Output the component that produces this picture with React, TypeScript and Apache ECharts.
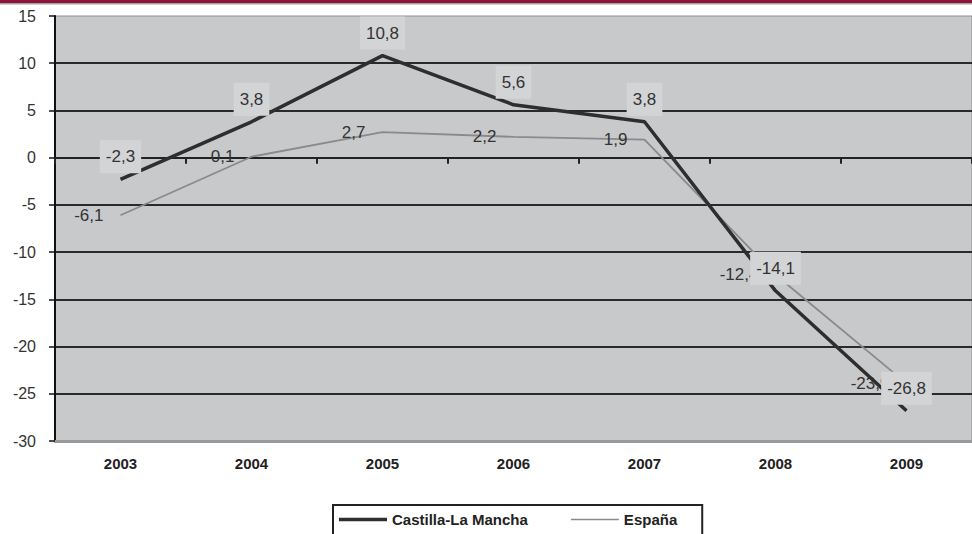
import React, { useEffect, useRef } from "react";
import * as echarts from "echarts";

const years = ["2003", "2004", "2005", "2006", "2007", "2008", "2009"];
const castillaLaMancha = [-2.3, 3.8, 10.8, 5.6, 3.8, -14.1, -26.8];
const espana = [-6.1, 0.1, 2.7, 2.2, 1.9, -12.4, -23.9];
const yMin = -30;
const yMax = 15;
const yStep = 5;

const fmt = (p: any) => String(p.value).replace(".", ",");
const FONT = "'Liberation Sans', Arial, sans-serif";

export default function App() {
  const ref = useRef<HTMLDivElement>(null);
  useEffect(() => {
    if (!ref.current) return;
    const chart = echarts.init(ref.current, null, { renderer: "svg" });
    chart.setOption({
      animation: false,
      backgroundColor: "#ffffff",
      textStyle: { fontFamily: FONT },
      graphic: [
        { type: "rect", left: 0, top: 0, shape: { width: 972, height: 3 }, style: { fill: "#8a1538" } },
        { type: "rect", left: 0, top: 3, shape: { width: 972, height: 1.5 }, style: { fill: "#a3a3a3" } },
      ],
      grid: {
        left: 55,
        right: -5,
        top: 16,
        bottom: 93,
        show: true,
        backgroundColor: "#c8c9cb",
        borderColor: "#8f8f8f",
        borderWidth: 1,
        containLabel: false,
      },
      legend: {
        data: [
          { name: "Castilla-La Mancha", icon: "path://M0,0h48v3.5h-48z" },
          { name: "España", icon: "path://M0,0h48v1.5h-48z" },
        ],
        left: 333,
        top: 505,
        padding: [7, 25, 30, 6],
        borderColor: "#222",
        borderWidth: 2,
        itemWidth: 48,
        itemHeight: 14,
        itemGap: 43,
        textStyle: { fontFamily: FONT, fontSize: 15, fontWeight: "bold", color: "#222" },
      },
      xAxis: [
        {
          type: "category",
          data: years,
          position: "bottom",
          boundaryGap: true,
          axisLine: { onZero: false, lineStyle: { color: "#9a9a9a", width: 3 } },
          axisTick: { show: false },
          axisLabel: { fontFamily: FONT, fontSize: 15, fontWeight: "bold", color: "#222", margin: 15 },
          splitLine: { show: false },
        },
        {
          type: "category",
          data: years,
          position: "top",
          boundaryGap: true,
          axisLine: { onZero: true, lineStyle: { color: "#222", width: 2 } },
          axisTick: { show: true, inside: true, length: 6, lineStyle: { color: "#222", width: 2 } },
          axisLabel: { show: false },
          splitLine: { show: false },
        },
      ],
      yAxis: {
        type: "value",
        min: yMin,
        max: yMax,
        interval: yStep,
        axisLine: { show: true, lineStyle: { color: "#111", width: 2 } },
        axisTick: { show: true, length: 6, lineStyle: { color: "#111", width: 1.5 } },
        axisLabel: { fontFamily: FONT, fontSize: 16, color: "#333", margin: 19 },
        splitLine: {
          show: true,
          showMinLine: false,
          showMaxLine: false,
          lineStyle: { color: "#2a2a2a", width: 2 },
        },
      },
      series: [
        {
          name: "Castilla-La Mancha",
          type: "line",
          data: castillaLaMancha,
          xAxisIndex: 0,
          z: 4,
          symbol: "circle",
          symbolSize: 0.1,
          showSymbol: true,
          lineStyle: { color: "#2e2e2e", width: 3.5 },
          itemStyle: { color: "#2e2e2e" },
          label: {
            show: true,
            position: "top",
            distance: 6,
            formatter: fmt,
            fontFamily: FONT,
            fontSize: 17,
            color: "#333",
            backgroundColor: "#d3d4d6",
            padding: [8, 6],
          },
        },
        {
          name: "España",
          type: "line",
          data: espana,
          xAxisIndex: 0,
          z: 3,
          symbol: "circle",
          symbolSize: 0.1,
          showSymbol: true,
          lineStyle: { color: "#8a8a8a", width: 1.8 },
          itemStyle: { color: "#8a8a8a" },
          label: {
            show: true,
            position: "left",
            distance: 17,
            formatter: fmt,
            fontFamily: FONT,
            fontSize: 17,
            color: "#333",
          },
        },
      ],
    });
    return () => chart.dispose();
  }, []);
  return (
    <div
      ref={ref}
      style={{ position: "absolute", left: 0, top: 0, width: 972, height: 534 }}
    />
  );
}
